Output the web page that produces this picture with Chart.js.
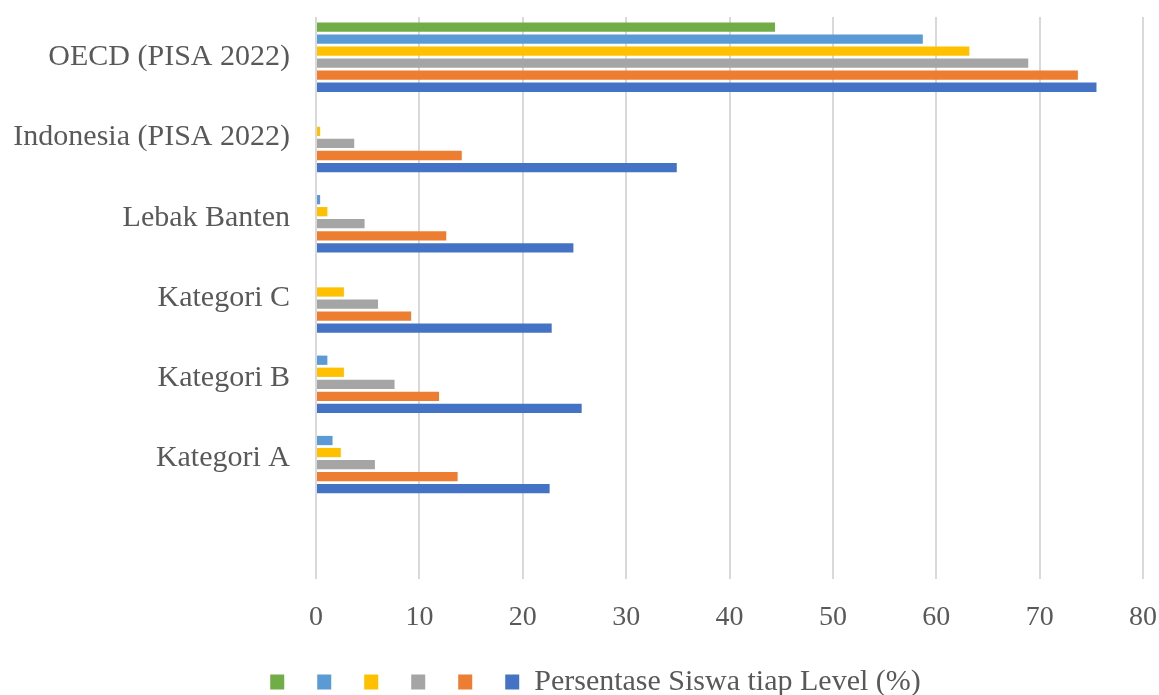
<!DOCTYPE html>
<html>
<head>
<meta charset="utf-8">
<script src="https://cdn.jsdelivr.net/npm/chart.js@4"></script>
<style>
  body{margin:0;background:#fff;}
  #wrap{width:1159px;height:695px;position:relative;}
</style>
</head>
<body>
<div id="wrap"><canvas id="chart"></canvas></div>
<script>
const categories = ['OECD (PISA 2022)','Indonesia (PISA 2022)','Lebak Banten','Kategori C','Kategori B','Kategori A',''];
const level6 = [44.4, null, null, null, null, null, null];
const level5 = [58.7, null, 0.4, null, 1.1, 1.6, null];
const level4 = [63.2, 0.4, 1.1, 2.7, 2.7, 2.4, null];
const level3 = [68.9, 3.7, 4.7, 6.0, 7.6, 5.7, null];
const level2 = [73.7, 14.1, 12.6, 9.2, 11.9, 13.7, null];
const level1 = [75.5, 34.9, 24.9, 22.8, 25.7, 22.6, null];
const seriesNames = ['', '', '', '', '', 'Persentase Siswa tiap Level (%)'];
const xTicks = [0,10,20,30,40,50,60,70,80];

const colors = ['#70ad47','#5b9bd5','#ffc000','#a5a5a5','#ed7d31','#4472c4'];
const series = [level6, level5, level4, level3, level2, level1];
const serif = 'Liberation Serif';

// nudge the legend a bit right, like the original
const legendShift = {
  id:'legendShift',
  afterLayout(chart){ chart.legend.left += 18; chart.legend.right += 18; }
};

new Chart(document.getElementById('chart'), {
  type:'bar',
  data:{
    labels:categories,
    datasets:series.map((d,i)=>({
      label:seriesNames[i], data:d, backgroundColor:colors[i],
      borderWidth:0, categoryPercentage:0.9, barPercentage:0.77
    }))
  },
  options:{
    indexAxis:'y',
    responsive:true, maintainAspectRatio:false, animation:false,
    layout:{padding:{left:12,right:16,top:17,bottom:-12}},
    scales:{
      x:{
        min:0, max:80,
        afterBuildTicks:(s)=>{ s.ticks = xTicks.map(v=>({value:v})); },
        afterFit:(s)=>{ s.paddingLeft = 0; s.paddingRight = 0; s.height = 70; },
        grid:{color:'#d9d9d9', lineWidth:2, drawTicks:false},
        border:{display:false},
        ticks:{padding:22, color:'#595959', font:{family:serif, size:28}}
      },
      y:{
        afterFit:(s)=>{ s.paddingTop = 0; s.paddingBottom = 0; s.width = 304; },
        grid:{display:false, drawTicks:false},
        border:{display:false},
        ticks:{padding:26, color:'#595959', font:{family:serif, size:30}}
      }
    },
    plugins:{
      legend:{
        position:'bottom',
        labels:{boxWidth:14, boxHeight:15, padding:18, color:'#595959', font:{family:serif, size:30}}
      },
      tooltip:{enabled:false}
    }
  },
  plugins:[legendShift]
});
</script>
</body>
</html>
